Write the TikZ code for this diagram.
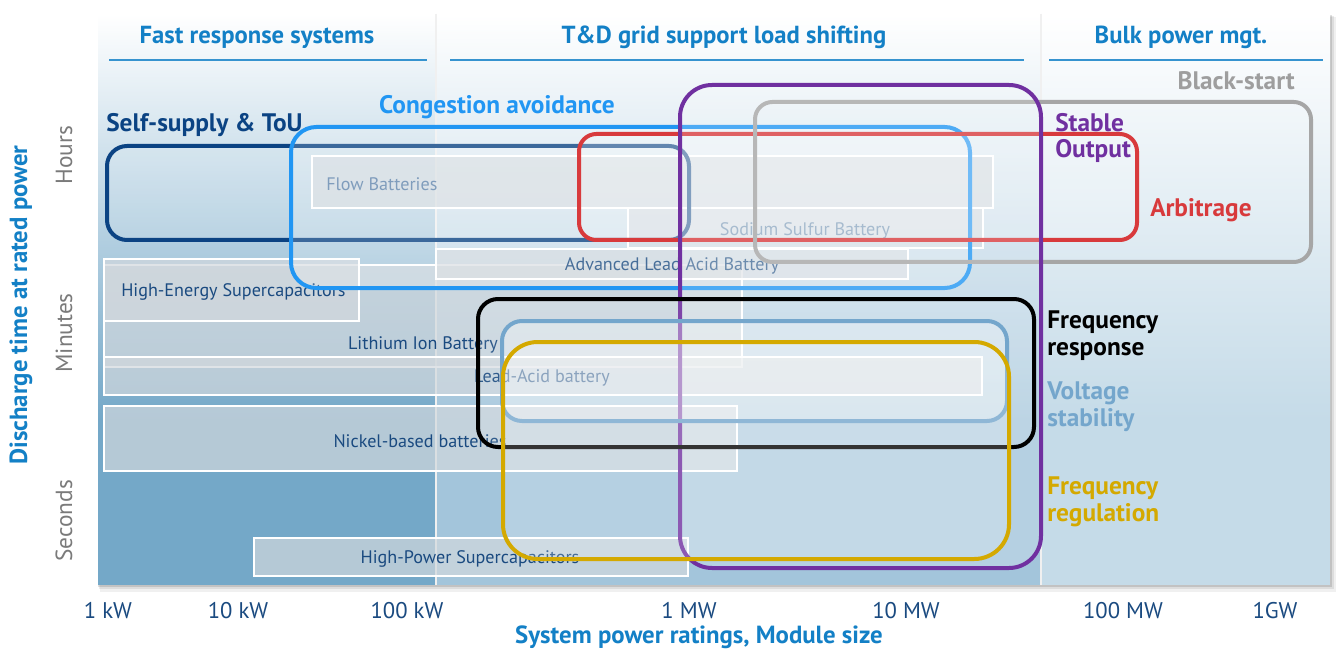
\documentclass[tikz,border=0pt]{standalone}
\usepackage{fontspec}
\setmainfont{PT Sans}
\definecolor{hdrblue}{HTML}{1380C6}
\definecolor{p1}{HTML}{74A8C8}
\definecolor{p2}{HTML}{A3C5DB}
\definecolor{p3}{HTML}{C5DBE8}
\definecolor{batnavy}{HTML}{1A4A80}
\definecolor{flowtxt}{HTML}{4F77A3}
\definecolor{nastxt}{HTML}{567DA3}
\definecolor{batfill}{HTML}{D2D8DD}
\definecolor{navyz}{HTML}{0B4383}
\definecolor{congz}{HTML}{2196F3}
\definecolor{redz}{HTML}{D83A3C}
\definecolor{greyz}{HTML}{A6A6A6}
\definecolor{purz}{HTML}{7030A0}
\definecolor{voltz}{HTML}{74A6CC}
\definecolor{goldz}{HTML}{D4A900}
\definecolor{tickgrey}{HTML}{7A7A7A}
\tikzset{
  hdr/.style={text=hdrblue, font=\bfseries\fontsize{18.5}{21}\selectfont},
  uline/.style={draw=hdrblue!85, line width=1.5pt},
  batbox/.style={draw=white, line width=1.1pt, fill=batfill, fill opacity=0.7},
  battxt/.style={text=batnavy, font=\fontsize{13.6}{16}\selectfont, inner sep=0pt},
  zone/.style={line width=3pt, fill=white},
  zlbl/.style={font=\bfseries\fontsize{19}{20.2}\selectfont, inner sep=0pt, align=left},
  ticklbl/.style={text=batnavy, font=\fontsize{17}{20}\selectfont},
  axttl/.style={text=hdrblue, font=\bfseries\fontsize{18.6}{21}\selectfont},
  unitlbl/.style={text=tickgrey, font=\fontsize{17.5}{20}\selectfont, rotate=90},
}
\begin{document}
\begin{tikzpicture}[x=0.75pt,y=-0.75pt]
\useasboundingbox (0,0) rectangle (1336,649);
\fill[white] (0,0) rectangle (1336,649);
% shadow
\fill[black, opacity=0.06] (100,17) rectangle (1336,592);
\fill[black, opacity=0.08] (99,16) rectangle (1334,589);
\fill[black, opacity=0.12] (98,15) rectangle (1332,587);
% panels
\shade[top color=white, bottom color=p1] (98,14) rectangle (436,420);
\fill[p1] (98,419.5) rectangle (436,585);
\shade[top color=white, bottom color=p2] (436,14) rectangle (1041,420);
\fill[p2] (436,419.5) rectangle (1041,585);
\shade[top color=white, bottom color=p3] (1041,14) rectangle (1330,420);
\fill[p3] (1041,419.5) rectangle (1330,585);
\draw[black!6, line width=0.8pt] (436,14) -- (436,585);
\draw[black!6, line width=0.8pt] (1041,14) -- (1041,585);
% headers
\node[hdr] (h1) at (257,37) {Fast response systems};
\node[hdr] (h2) at (724,37) {T\&D grid support load shifting};
\node[hdr] (h3) at (1181,37) {Bulk power mgt.};
\coordinate (u1a) at (109,60); \coordinate (u1b) at (427,60);
\coordinate (u2a) at (450,60); \coordinate (u2b) at (1024,60);
\coordinate (u3a) at (1049,60); \coordinate (u3b) at (1323,60);
\draw[uline] (u1a) -- (u1b);
\draw[uline] (u2a) -- (u2b);
\draw[uline] (u3a) -- (u3b);
% battery boxes
\draw[batbox] (312,156) rectangle (993,208);
\draw[batbox] (628,208) rectangle (983,248);
\draw[batbox] (104,265) rectangle (742,367);
\draw[batbox] (436,249) rectangle (908,279);
\draw[batbox] (104,259) rectangle (359,321);
\draw[batbox] (104,357) rectangle (982,395);
\draw[batbox] (104,406) rectangle (737,471);
\draw[batbox] (254,538) rectangle (688,576);
\node[battxt, text=flowtxt, anchor=west] (flow) at (326,184) {Flow Batteries};
\node[battxt, text=nastxt] (nas) at (805,231) {Sodium Sulfur Battery};
\node[battxt] (adv) at (672,266) {Advanced Lead Acid Battery};
\node[battxt, anchor=west] (hes) at (121,292) {High-Energy Supercapacitors};
\node[battxt] (li) at (423,345) {Lithium Ion Battery};
\node[battxt] (pb) at (542,378) {Lead-Acid battery};
\node[battxt] (ni) at (420,441) {Nickel-based batteries};
\node[battxt] (hps) at (470,559) {High-Power Supercapacitors};
% zones
\draw[zone, draw=navyz, fill opacity=0.1, rounded corners=15pt] (107,146) rectangle (689,240);
\draw[zone, draw=congz, fill opacity=0.2, rounded corners=19pt] (291,127) rectangle (970,288);
\draw[zone, draw=redz, fill opacity=0.2, rounded corners=13pt] (579,134) rectangle (1137,240);
\draw[zone, draw=greyz, fill opacity=0, rounded corners=13pt] (755,102) rectangle (1311,262);
\draw[zone, draw=purz, fill opacity=0.2, rounded corners=24pt] (680,85) rectangle (1041,568);
\draw[zone, draw=black, fill opacity=0.1, rounded corners=15pt] (478,299) rectangle (1034,447);
\draw[zone, draw=voltz, fill opacity=0.3, rounded corners=15pt] (502,321) rectangle (1007,421);
\draw[zone, draw=goldz, fill opacity=0.2, rounded corners=26pt] (503,342) rectangle (1009,559);
% zone labels
\node[zlbl, text=greyz!95!black, anchor=east] (bs) at (1295,81) {Black-start};
\node[zlbl, text=congz] (ca) at (497,107) {Congestion avoidance};
\node[zlbl, text=navyz, anchor=west] (ss) at (106,125) {Self-supply \& ToU};
\node[zlbl, text=purz, anchor=west] (so) at (1055,138) {Stable\\Output};
\node[zlbl, text=redz, anchor=west] (arb) at (1150,210) {Arbitrage};
\node[zlbl, text=black, anchor=west] (fr) at (1047,336) {Frequency\\response};
\node[zlbl, text=voltz, anchor=west] (vs) at (1047,406.5) {Voltage\\stability};
\node[zlbl, text=goldz, anchor=west] (freg) at (1047,501.5) {Frequency\\regulation};
% axes
\node[axttl, rotate=90] (yt) at (21,305) {Discharge time at rated power};
\node[unitlbl] (hrs) at (64,155) {Hours};
\node[unitlbl] (min) at (64,333) {Minutes};
\node[unitlbl] (sec) at (64,521) {Seconds};
\node[ticklbl] (t1) at (108,611) {1 kW};
\node[ticklbl] (t2) at (238,611) {10 kW};
\node[ticklbl] (t3) at (407,611) {100 kW};
\node[ticklbl] (t4) at (689,611) {1 MW};
\node[ticklbl] (t5) at (906,611) {10 MW};
\node[ticklbl] (t6) at (1123,611) {100 MW};
\node[ticklbl] (t7) at (1275,611) {1GW};
\node[axttl] (xt) at (699,637) {System power ratings, Module size};
\end{tikzpicture}
\end{document}
